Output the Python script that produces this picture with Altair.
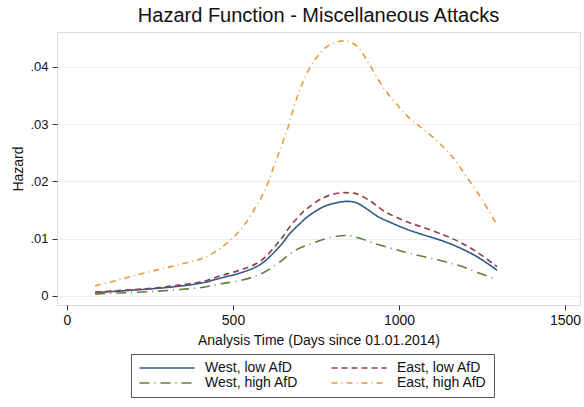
import altair as alt
import pandas as pd

# legend fills column by column, so this order gives rows: (West low, East low), (West high, East high)
series_names = ["West, low AfD", "West, high AfD", "East, low AfD", "East, high AfD"]
series_colors = ["#2f5a88", "#5f7f3a", "#973f48", "#e39b3a"]
series_dashes = [[1, 0], [10, 5, 1, 5], [6, 4], [6, 4, 1, 4]]

west_low_days = [85, 150, 200, 270, 340, 410, 462, 522, 583, 643, 673, 703, 724, 774, 824, 850, 874, 905, 935, 975, 1025, 1066, 1136, 1186, 1236, 1295]
west_low_haz = [0.0006, 0.0008, 0.0010, 0.0013, 0.0017, 0.0023, 0.0031, 0.0040, 0.0055, 0.0088, 0.0110, 0.0127, 0.0138, 0.0156, 0.0164, 0.0165, 0.0162, 0.0151, 0.0139, 0.0128, 0.0116, 0.0108, 0.0095, 0.0083, 0.0068, 0.0045]

east_low_days = [85, 150, 200, 270, 340, 410, 462, 522, 583, 643, 673, 703, 724, 774, 824, 850, 874, 915, 955, 1005, 1035, 1066, 1136, 1186, 1236, 1295]
east_low_haz = [0.0006, 0.0009, 0.0011, 0.0014, 0.0019, 0.0025, 0.0035, 0.0045, 0.0061, 0.0098, 0.0122, 0.0142, 0.0153, 0.0172, 0.0180, 0.0180, 0.0178, 0.0165, 0.0148, 0.0134, 0.0127, 0.0121, 0.0106, 0.0093, 0.0076, 0.0051]

west_high_days = [85, 150, 200, 270, 340, 410, 462, 522, 583, 643, 673, 703, 740, 774, 824, 850, 874, 935, 995, 1035, 1136, 1186, 1236, 1292]
west_high_haz = [0.0003, 0.0005, 0.0006, 0.0008, 0.0011, 0.0015, 0.0021, 0.0027, 0.0038, 0.0060, 0.0074, 0.0084, 0.0092, 0.0099, 0.0105, 0.0105, 0.0102, 0.0090, 0.0080, 0.0074, 0.0060, 0.0052, 0.0041, 0.0029]

east_high_days = [85, 150, 200, 270, 340, 410, 462, 522, 563, 598, 623, 663, 703, 744, 784, 824, 850, 874, 905, 955, 1000, 1025, 1065, 1106, 1156, 1206, 1250, 1292]
east_high_haz = [0.00175, 0.0027, 0.0035, 0.0045, 0.0055, 0.0066, 0.0083, 0.0115, 0.0150, 0.0187, 0.0226, 0.0290, 0.0363, 0.0410, 0.0436, 0.0445, 0.0444, 0.0436, 0.0410, 0.0362, 0.0330, 0.0314, 0.0295, 0.0275, 0.0246, 0.0206, 0.0168, 0.0127]

x_ticks = [0, 500, 1000, 1500]
y_ticks = [0, 0.01, 0.02, 0.03, 0.04]

rows = []
for name, days, haz in [
    ("West, low AfD", west_low_days, west_low_haz),
    ("East, low AfD", east_low_days, east_low_haz),
    ("West, high AfD", west_high_days, west_high_haz),
    ("East, high AfD", east_high_days, east_high_haz),
]:
    for d, h in zip(days, haz):
        rows.append({"series": name, "day": d, "hazard": h})
df = pd.DataFrame(rows)

FONT = "Liberation Sans"

chart = alt.Chart(df).mark_line(interpolate="catmull-rom", strokeWidth=1.6).encode(
    x=alt.X("day:Q",
            scale=alt.Scale(domain=[-30, 1545], nice=False, zero=False),
            axis=alt.Axis(values=x_ticks, format="d", title="Analysis Time (Days since 01.01.2014)",
                          grid=False, domain=False, tickSize=5, tickColor="#333333",
                          labelFontSize=14, titleFontSize=14, labelPadding=3, titlePadding=6,
                          labelColor="#111111", titleColor="#111111", labelFlush=False,
                          titleFontWeight="normal", labelFont=FONT, titleFont=FONT)),
    y=alt.Y("hazard:Q",
            scale=alt.Scale(domain=[-0.0016, 0.0461], nice=False, zero=False),
            axis=alt.Axis(values=y_ticks, title="Hazard", grid=True, gridColor="#e6eef1",
                          gridWidth=1.2, domain=False, tickSize=5, tickColor="#333333",
                          labelExpr="datum.value == 0 ? '0' : replace(format(datum.value, '.2f'), '0.', '.')",
                          labelFontSize=13, titleFontSize=14, labelPadding=4, titlePadding=4,
                          labelColor="#111111", titleColor="#111111", labelFlush=False,
                          titleFontWeight="normal", labelFont=FONT, titleFont=FONT)),
    color=alt.Color("series:N",
                    scale=alt.Scale(domain=series_names, range=series_colors),
                    sort=series_names,
                    legend=alt.Legend(title=None, orient="none", legendX=74, legendY=322,
                                      columns=2, symbolType="M-1,0H9", symbolSize=121,
                                      symbolStrokeWidth=1.6, labelFontSize=14, labelFont=FONT,
                                      labelColor="#111111", labelOffset=53, columnPadding=29,
                                      rowPadding=1, padding=7, strokeColor="#555555",
                                      fillColor="white", cornerRadius=0)),
    strokeDash=alt.StrokeDash("series:N",
                              scale=alt.Scale(domain=series_names, range=series_dashes),
                              sort=series_names, legend=None),
).properties(
    width=523, height=273,
    title=alt.TitleParams("Hazard Function - Miscellaneous Attacks", fontSize=20,
                          font=FONT, fontWeight="normal", color="#111111",
                          anchor="middle", offset=6),
    autosize=alt.AutoSizeParams(type="none"),
    padding={"left": 57, "top": 32, "right": 4, "bottom": 102},
).configure_view(
    stroke="#444444", strokeWidth=1.5
).configure(background="white")

chart.save("out.html", embed_options={"renderer": "svg", "actions": False})
